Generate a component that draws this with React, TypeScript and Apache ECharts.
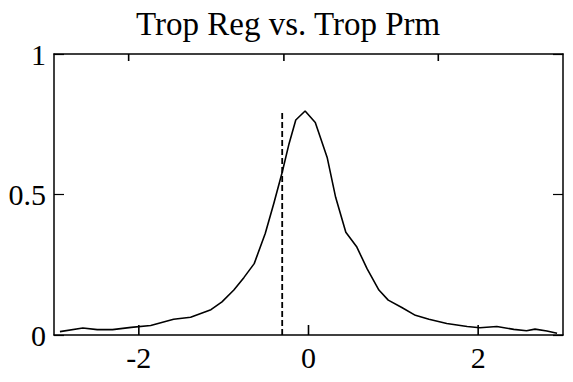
import React, { useEffect, useRef } from "react";
import * as echarts from "echarts";

const titleText = "Trop Reg vs. Trop Prm";
const xValues = [
  -2.93, -2.66, -2.49, -2.31, -2.09, -1.86, -1.59, -1.39, -1.15, -1.02, -0.88, -0.76,
  -0.64, -0.51, -0.41, -0.31, -0.23, -0.15, -0.04, 0.08, 0.22, 0.32, 0.44, 0.57, 0.69,
  0.83, 0.94, 1.1, 1.26, 1.42, 1.63, 1.87, 2.02, 2.22, 2.42, 2.57, 2.67, 2.81, 2.93,
];
const yValues = [
  0.012, 0.025, 0.019, 0.019, 0.027, 0.034, 0.056, 0.063, 0.09, 0.118, 0.16, 0.205,
  0.254, 0.361, 0.467, 0.579, 0.68, 0.765, 0.797, 0.756, 0.632, 0.49, 0.366, 0.313,
  0.236, 0.16, 0.124, 0.098, 0.07, 0.056, 0.041, 0.03, 0.026, 0.03, 0.02, 0.015, 0.021,
  0.014, 0.006,
];
const dashX = -0.31;
const dashYs = [0, 0.8];
const xTickValues = [-2, 0, 2];
const topTickValues = [-2.12, -0.29, 1.53];

const FONT = "Liberation Serif";

export default function App() {
  const ref = useRef<HTMLDivElement>(null);
  useEffect(() => {
    if (!ref.current) return;
    const chart = echarts.init(ref.current, null, { renderer: "svg" });
    const curve = xValues.map((x, i) => [x, yValues[i]]);
    const dash = dashYs.map((y) => [dashX, y]);
    const tickSeries = (name: string, pts: number[][]) => ({
      name,
      type: "line",
      data: pts,
      symbol: "none",
      showSymbol: false,
      silent: true,
      lineStyle: { color: "#000", width: 1.6 },
    });
    const bottomTicks = xTickValues.map((x, i) => tickSeries("bt" + i, [[x, 0], [x, 0.036]]));
    const topTicks = topTickValues.map((x, i) => tickSeries("tt" + i, [[x, 1], [x, 0.975]]));
    chart.setOption({
      animation: false,
      backgroundColor: "#ffffff",
      title: {
        text: titleText,
        left: 131,
        top: 2,
        textStyle: { fontFamily: FONT, fontSize: 33, fontWeight: "normal", color: "#000" },
      },
      grid: { left: 54, right: 10, top: 54, bottom: 47, containLabel: false },
      xAxis: [
        {
          type: "value",
          min: -3,
          max: 3,
          interval: 1,
          position: "bottom",
          splitLine: { show: false },
          axisLine: { show: true, onZero: false, lineStyle: { color: "#000", width: 1.5 } },
          axisTick: { show: false },
          axisLabel: {
            fontFamily: FONT,
            fontSize: 30,
            color: "#000",
            margin: 7,
            showMinLabel: false,
            showMaxLabel: false,
            formatter: (v: number) => (xTickValues.includes(v) ? String(v) : ""),
          },
        },
        {
          type: "value",
          min: -3,
          max: 3,
          position: "top",
          splitLine: { show: false },
          axisLine: { show: true, onZero: false, lineStyle: { color: "#000", width: 1.5 } },
          axisTick: { show: false },
          axisLabel: { show: false },
        },
      ],
      yAxis: [
        {
          type: "value",
          min: 0,
          max: 1,
          interval: 0.5,
          position: "left",
          splitLine: { show: false },
          axisLine: { show: true, onZero: false, lineStyle: { color: "#000", width: 1.5 } },
          axisTick: {
            show: true,
            inside: true,
            length: 10,
            lineStyle: { color: "#000", width: 1.2 },
          },
          axisLabel: {
            fontFamily: FONT,
            fontSize: 30,
            color: "#000",
            margin: 8,
          },
        },
        {
          type: "value",
          min: 0,
          max: 1,
          interval: 0.5,
          position: "right",
          splitLine: { show: false },
          axisLine: { show: true, onZero: false, lineStyle: { color: "#000", width: 1.5 } },
          axisTick: {
            show: true,
            inside: true,
            length: 10,
            lineStyle: { color: "#000", width: 1.2 },
          },
          axisLabel: { show: false },
        },
      ],
      series: [
        {
          name: "curve",
          type: "line",
          data: curve,
          showSymbol: false,
          symbol: "none",
          lineStyle: { color: "#000", width: 1.6 },
        },
        {
          name: "dash",
          type: "line",
          data: dash,
          showSymbol: false,
          symbol: "none",
          lineStyle: { color: "#000", width: 1.8, type: [6, 3] },
        },
        ...bottomTicks,
        ...topTicks,
      ],
    });
    return () => chart.dispose();
  }, []);
  return (
    <div
      ref={ref}
      style={{ position: "fixed", left: 0, top: 0, width: 573, height: 382, background: "#fff" }}
    />
  );
}
